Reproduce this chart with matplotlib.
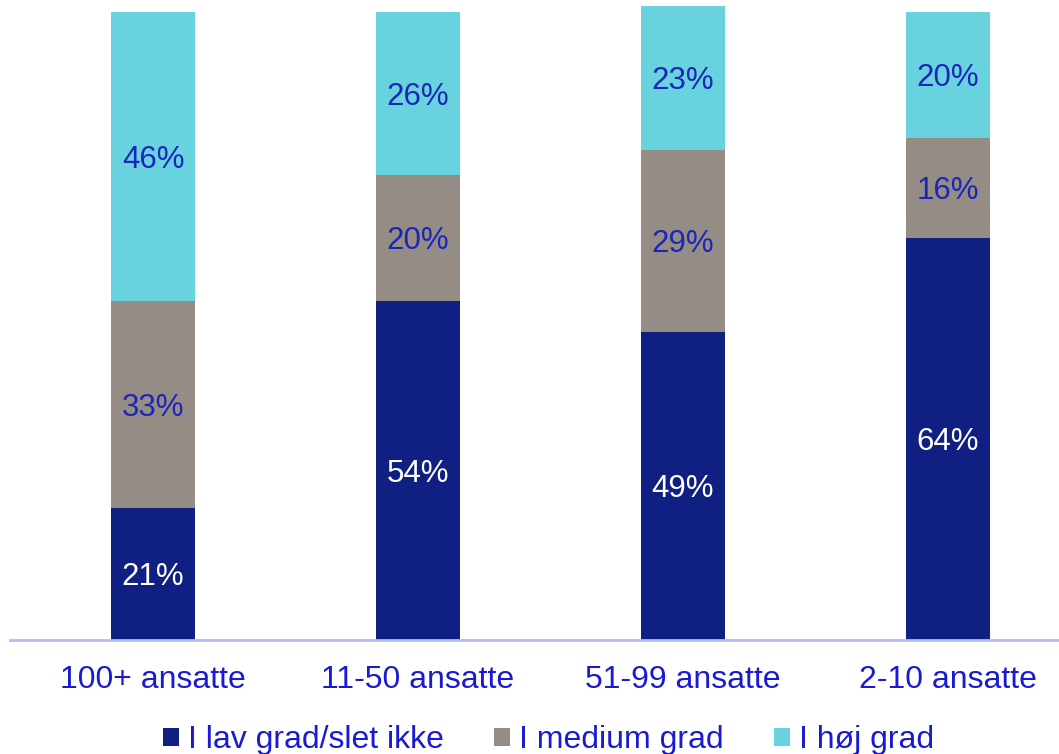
import matplotlib
matplotlib.use("Agg")
import matplotlib.pyplot as plt
import numpy as np

categories = ["100+ ansatte", "11-50 ansatte", "51-99 ansatte", "2-10 ansatte"]
series_names = ["I lav grad/slet ikke", "I medium grad", "I høj grad"]
low = [21, 54, 49, 64]
medium = [33, 20, 29, 16]
high = [46, 26, 23, 20]

colors = ["#101f82", "#958d85", "#68d3df"]
label_colors = ["white", "#1a26b8", "#1a26b8"]
text_blue = "#1a1ad2"

plt.rcParams['font.family'] = ['Liberation Sans', 'DejaVu Sans']

fig = plt.figure(figsize=(10.59, 7.54), dpi=100)
ax = fig.add_axes([10/1059, (754-640)/754, 1 - 10/1059, 640/754])

x = np.arange(len(categories))
bottom = np.zeros(len(categories))
handles = []
for vals, name, c, lc in zip([low, medium, high], series_names, colors, label_colors):
    vals = np.array(vals, dtype=float)
    b = ax.bar(x, vals, width=0.317, bottom=bottom, color=c, label=name, linewidth=0)
    handles.append(b)
    for xi, v, bt in zip(x, vals, bottom):
        ax.text(xi, bt + v / 2 - 0.5, f"{int(v)}%", ha="center", va="center",
                color=lc, fontsize=22.5)
    bottom += vals

ax.set_xlim(-0.54, 3.42)
ax.set_ylim(0, 101.9)
ax.set_yticks([])
ax.set_xticks(x)
ax.set_xticklabels(categories, fontsize=23, color=text_blue)
ax.tick_params(axis='x', length=0, pad=18)
for s in ["top", "right", "left"]:
    ax.spines[s].set_visible(False)
ax.spines["bottom"].set_color("#b4bcef")
ax.spines["bottom"].set_linewidth(2)

leg = fig.legend(handles=handles, labels=series_names, loc="center",
                 bbox_to_anchor=(0.518, (754-740)/754), ncol=3,
                 frameon=False, fontsize=23, handlelength=0.5, handleheight=0.5,
                 handletextpad=0.3, columnspacing=1.55)
for t in leg.get_texts():
    t.set_color(text_blue)

fig.savefig("out.png", dpi=100)
